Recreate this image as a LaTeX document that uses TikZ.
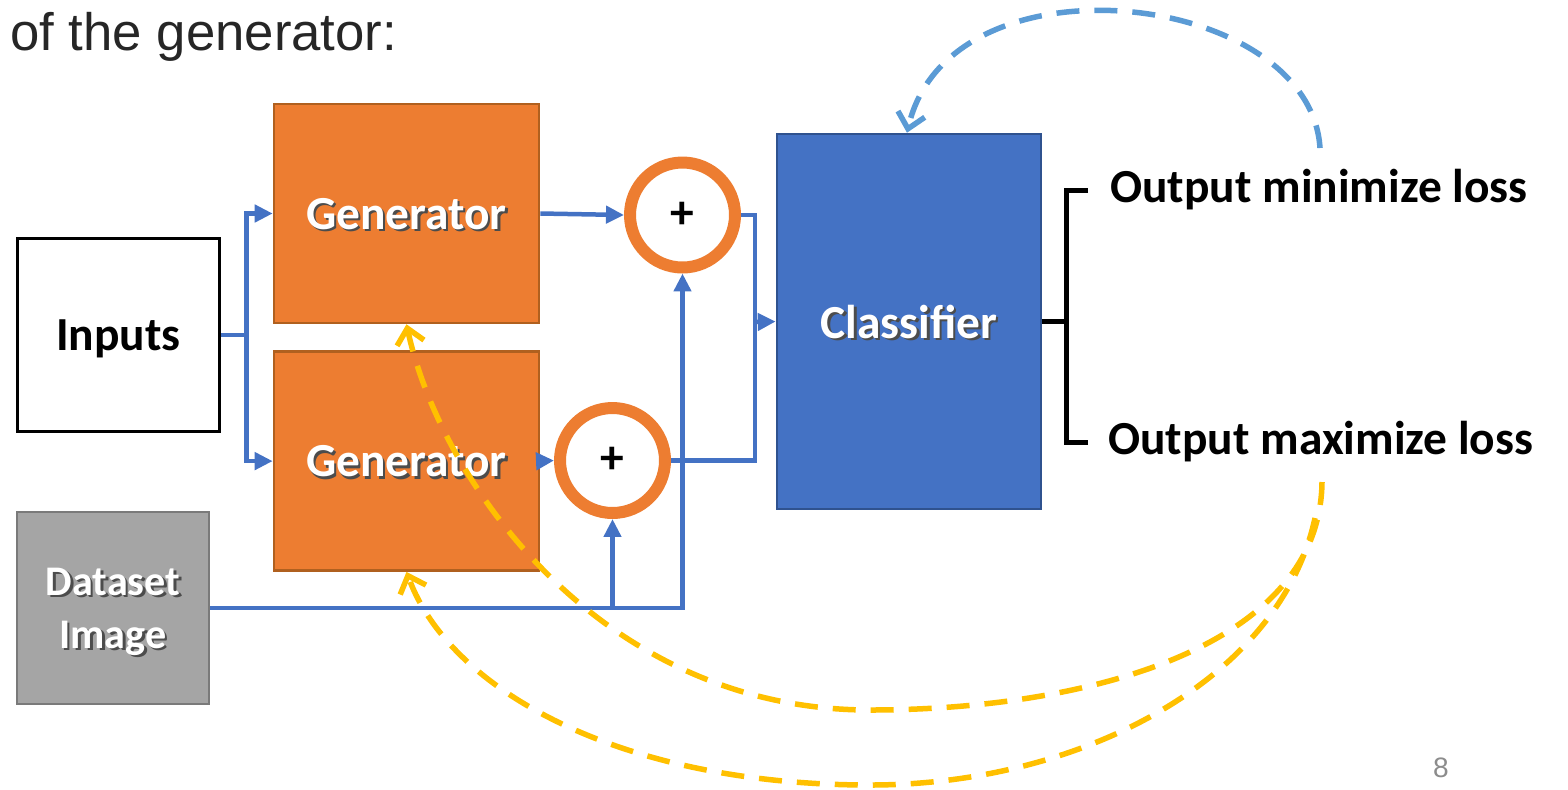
\documentclass[tikz,border=0pt]{standalone}
\usepackage{fontspec}
\setmainfont{Carlito}
\newfontfamily\slidefont{Liberation Sans}
\usetikzlibrary{arrows.meta, positioning}

\definecolor{genorange}{HTML}{ED7D31}
\definecolor{genborder}{HTML}{B0601F}
\definecolor{clfblue}{HTML}{4472C4}
\definecolor{clfborder}{HTML}{2F528F}
\definecolor{datagray}{HTML}{A5A5A5}
\definecolor{databorder}{HTML}{7A7A7A}
\definecolor{lossblue}{HTML}{5B9BD5}
\definecolor{lossyellow}{HTML}{FFC000}

\newcommand{\shadowed}[1]{\makebox[0pt][l]{\kern1.4pt\raisebox{-1.4pt}{\color{black!70}#1}}#1}

\begin{document}
\begin{tikzpicture}[x=0.02cm, y=-0.02cm,
    block/.style={draw, rectangle, line width=1.5pt, text=white, text depth=0pt, font=\fontsize{27}{32}\selectfont\bfseries},
    adder/.style={draw=genorange, circle, line width=0.24cm, fill=white, minimum size=2.1cm, inner sep=0pt, font=\fontsize{27}{32}\selectfont\bfseries},
    wire/.style={clfblue, line width=0.09cm},
    link/.style={wire, -{Triangle[length=0.36cm, width=0.34cm]}},
    bracket/.style={black, line width=0.1cm},
    loss/.style={line width=0.11cm, dash pattern=on 0.46cm off 0.3cm, -{Straight Barb[length=0.3cm, width=0.55cm]}},
    label/.style={anchor=west, inner sep=0pt, font=\fontsize{27}{32}\selectfont\bfseries}]
    \useasboundingbox (0,0) rectangle (1568,789);

    \node (title) [anchor=base west, inner sep=0pt, text=black!85, font=\slidefont\fontsize{30}{36}\selectfont] at (10,50) {of the generator:};
    \node (inputs) [draw, rectangle, line width=0.06cm, minimum width=4.06cm, minimum height=3.88cm, text depth=0pt, font=\fontsize{27}{32}\selectfont\bfseries] at (118.5,335) {Inputs};
    \node (gentop) [block, fill=genorange, draw=genborder, minimum width=5.3cm, minimum height=4.38cm] at (406.5,213.5) {\shadowed{Generator}};
    \node (genbot) [block, fill=genorange, draw=genborder, minimum width=5.3cm, minimum height=4.38cm, below=0.52cm of gentop] {\shadowed{Generator}};
    \node (addtop) [adder] at (682.5,215) {+};
    \node (addbot) [adder] at (612.5,460.5) {+};
    \node (clf) [block, fill=clfblue, draw=clfborder, minimum width=5.28cm, minimum height=7.5cm] at (909,321.5) {\shadowed{Classifier}};
    \node (data) [block, fill=datagray, draw=databorder, minimum width=3.84cm, minimum height=3.84cm, align=center, font=\fontsize{24}{30}\selectfont\bfseries] at (113,608) {\shadowed{Dataset}\\\shadowed{Image}};
    \node (outmin) [label] at (1110,190) {Output minimize loss};
    \node (outmax) [label] at (1108,442) {Output maximize loss};
    \node (pagenum) [text=black!45, font=\slidefont\fontsize{16}{19}\selectfont] at (1441,768) {8};

    \coordinate (split) at ([xshift=0.5cm]inputs.east);
    \coordinate (merge) at (755,322);
    \coordinate (fork) at ([xshift=0.48cm]clf.east);
    \coordinate (minfrom) at (1320,148);
    \coordinate (maxfrom) at (1322,482);
    \coordinate (maxfromb) at (1315,518);

    \draw[wire] (inputs.east) -- (split);
    \draw[link] (split) |- (gentop.west);
    \draw[link] (split) |- (genbot.west);
    \draw[link] (gentop.east) -- (addtop.west);
    \draw[link] (genbot.east) -- (addbot.west);
    \draw[wire] (addtop.east) -| (merge) |- (addbot.east);
    \draw[link] (merge) -- (clf.west);
    \draw[link] (data.east) -| (addtop.south);
    \draw[link] (addbot.south |- data.east) -- (addbot.south);

    \draw[bracket] (clf.east) -- (fork);
    \draw[bracket] ([xshift=-0.44cm]outmin.west) -| (fork);
    \draw[bracket] ([xshift=-0.4cm]outmax.west) -| (fork);

    \draw[loss, lossblue] (minfrom) .. controls (1310,-10) and (950,-51) .. ([xshift=-0.04cm]clf.north);
    \draw[loss, lossyellow] (maxfrom) .. controls (1320,650) and (1080,710) .. (870,710) .. controls (600,710) and (440,480) .. (gentop.south);
    \draw[loss, lossyellow] (maxfromb) .. controls (1280,680) and (1080,785) .. (870,785) .. controls (620,785) and (450,690) .. (genbot.south);
\end{tikzpicture}
\end{document}
